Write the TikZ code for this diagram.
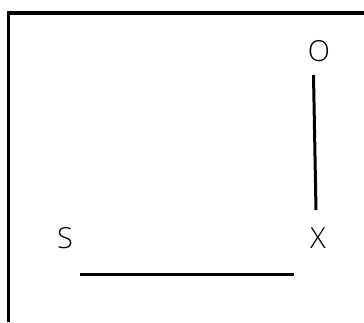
\documentclass[tikz,border=0pt]{standalone}
\usepackage{fontspec}
\setmainfont{Open Sans}[UprightFont=* Light]
\begin{document}
\begin{tikzpicture}[x=1pt,y=-1pt,
  lbl/.style={font=\fontsize{29}{29}\selectfont, inner sep=0pt, anchor=center},
  thick line/.style={line width=3pt, black},
  frame/.style={line width=3.2pt, black}]
\useasboundingbox (0,0) rectangle (364,322);
\coordinate (ftl) at (8.5,13);
\coordinate (ftr) at (364,13);
\coordinate (fbl) at (8.5,322);
\draw[frame] (ftr) -- (ftl) -- (fbl);
\node[lbl] (O) at (319,51) {O};
\node[lbl] (S) at (65,238) {S};
\node[lbl] (X) at (318,238) {X};
\coordinate (v1) at (313.5,75);
\coordinate (v2) at (316,210);
\draw[thick line] (v1) -- (v2);
\coordinate (h1) at (80,274);
\coordinate (h2) at (294,274);
\draw[thick line] (h1) -- (h2);
\end{tikzpicture}
\end{document}
